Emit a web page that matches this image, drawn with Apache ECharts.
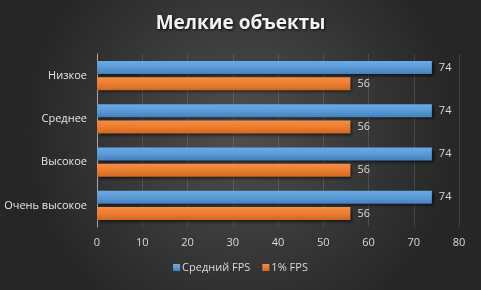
<!DOCTYPE html>
<html><head><meta charset="utf-8">
<script src="https://cdn.jsdelivr.net/npm/echarts@6/dist/echarts.min.js"></script>
<style>html,body{margin:0;padding:0;background:#3a3a3a}#c{width:481px;height:290px}</style>
</head><body><div id="c"></div>
<script>
const categories = ['Низкое', 'Среднее', 'Высокое', 'Очень высокое'];
const avgFps = [74, 74, 74, 74];
const lowFps = [56, 56, 56, 56];
const seriesNames = ['Средний FPS', '1% FPS'];

const chart = echarts.init(document.getElementById('c'), null, {renderer: 'canvas'});
const labelStyle = {show: true, position: 'right', color: '#d9d9d9', fontSize: 11, fontFamily: 'Open Sans', distance: 7};
chart.setOption({
  backgroundColor: {
    type: 'radial', x: 0.5, y: 0.45, r: 0.75,
    colorStops: [{offset: 0, color: '#4f4f4f'}, {offset: 1, color: '#262626'}]
  },
  title: {
    text: 'Мелкие объекты', left: 'center', top: 9,
    textStyle: {color: '#f2f2f2', fontSize: 19, fontWeight: 'bold', fontFamily: 'Open Sans',
      textShadowColor: 'rgba(0,0,0,0.8)', textShadowBlur: 3, textShadowOffsetX: 1, textShadowOffsetY: 1}
  },
  legend: {
    data: seriesNames, bottom: 12, left: 'center', itemWidth: 7, itemHeight: 7, itemGap: 12,
    icon: 'rect',
    textStyle: {color: '#d9d9d9', fontSize: 11, fontFamily: 'Open Sans', padding: [0, 0, 0, -3]}
  },
  grid: {left: 97, right: 22, top: 54, bottom: 63, containLabel: false},
  xAxis: {
    type: 'value', min: 0, max: 80, interval: 10,
    axisLine: {show: false}, axisTick: {show: false},
    splitLine: {lineStyle: {color: 'rgba(255,255,255,0.13)', width: 1}},
    axisLabel: {color: '#d9d9d9', fontSize: 11, fontFamily: 'Open Sans', margin: 10}
  },
  yAxis: {
    type: 'category', data: categories, inverse: true,
    axisLine: {show: true, lineStyle: {color: '#a6a6a6'}}, axisTick: {show: false},
    axisLabel: {color: '#e6e6e6', fontSize: 11, fontFamily: 'Open Sans', margin: 10}
  },
  series: [
    {name: seriesNames[0], type: 'bar', data: avgFps, barWidth: 13, barGap: '25%', barCategoryGap: '34%',
      itemStyle: {color: {type: 'linear', x: 0, y: 0, x2: 0, y2: 1, colorStops: [{offset: 0, color: '#6aaaea'}, {offset: 0.5, color: '#5b9bd5'}, {offset: 1, color: '#4580c0'}]},
        shadowColor: 'rgba(0,0,0,0.6)', shadowBlur: 3, shadowOffsetX: 2, shadowOffsetY: 2},
      label: labelStyle},
    {name: seriesNames[1], type: 'bar', data: lowFps, barWidth: 13,
      itemStyle: {color: {type: 'linear', x: 0, y: 0, x2: 0, y2: 1, colorStops: [{offset: 0, color: '#f58e44'}, {offset: 0.5, color: '#ed7d31'}, {offset: 1, color: '#d06820'}]},
        shadowColor: 'rgba(0,0,0,0.6)', shadowBlur: 3, shadowOffsetX: 2, shadowOffsetY: 2},
      label: labelStyle}
  ]
});
</script></body></html>
